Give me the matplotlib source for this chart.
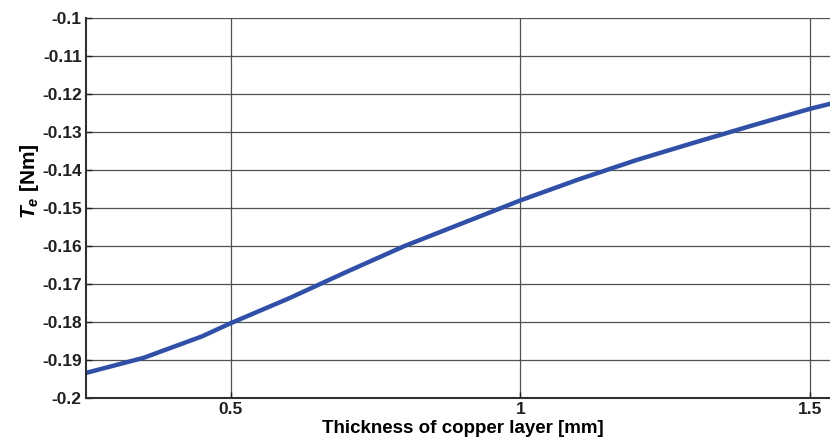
import matplotlib
matplotlib.use('Agg')
import matplotlib.pyplot as plt

plt.rcParams['font.family'] = ['Liberation Sans', 'DejaVu Sans']
plt.rcParams['mathtext.fontset'] = 'custom'
plt.rcParams['mathtext.it'] = 'Liberation Sans:bold:italic'
plt.rcParams['mathtext.rm'] = 'Liberation Sans:bold'

# espessura da camada de cobre [mm] e torque eletromagnetico [Nm]
espessura = [0.25, 0.35, 0.45, 0.5, 0.6, 0.7, 0.8, 0.9, 1.0, 1.1, 1.2, 1.3, 1.4, 1.5, 1.55]
torque = [-0.1934, -0.1894, -0.1838, -0.1803, -0.1738, -0.1668, -0.1600, -0.1540,
          -0.1480, -0.1425, -0.1374, -0.1328, -0.1283, -0.1239, -0.1220]

xticks = [0.5, 1, 1.5]
yticks = [-0.2, -0.19, -0.18, -0.17, -0.16, -0.15, -0.14, -0.13, -0.12, -0.11, -0.1]

fig = plt.figure(figsize=(8.3, 4.4), dpi=100)
ax = fig.add_axes([86 / 830, 42 / 440, 753 / 830, 380 / 440])

ax.plot(espessura, torque, color='#3050a8', lw=3.2, solid_capstyle='butt')

ax.set_xlim(0.25, 1.55)
ax.set_ylim(-0.2, -0.1)
ax.set_xticks(xticks)
ax.set_xticklabels(['0.5', '1', '1.5'])
ax.set_yticks(yticks)
ax.set_yticklabels(['-0.2', '-0.19', '-0.18', '-0.17', '-0.16', '-0.15', '-0.14',
                    '-0.13', '-0.12', '-0.11', '-0.1'])
ax.grid(True, color='#505050', lw=0.9)
ax.set_axisbelow(True)

for lado in ['top', 'right']:
    ax.spines[lado].set_visible(False)
for lado in ['left', 'bottom']:
    ax.spines[lado].set_color('#303030')
    ax.spines[lado].set_linewidth(1.5)

ax.tick_params(direction='in', length=4, width=1, colors='#202020',
               labelsize=12.5, pad=3)
for lab in ax.get_xticklabels() + ax.get_yticklabels():
    lab.set_fontweight('bold')

ax.set_xlabel('Thickness of copper layer [mm]', fontsize=13.5, fontweight='bold', labelpad=2)
ax.set_ylabel(r'$T_{e}$ [Nm]', fontsize=15, fontweight='bold')
ax.yaxis.set_label_coords(-0.06, 0.57)

fig.savefig('out.png', dpi=100)
